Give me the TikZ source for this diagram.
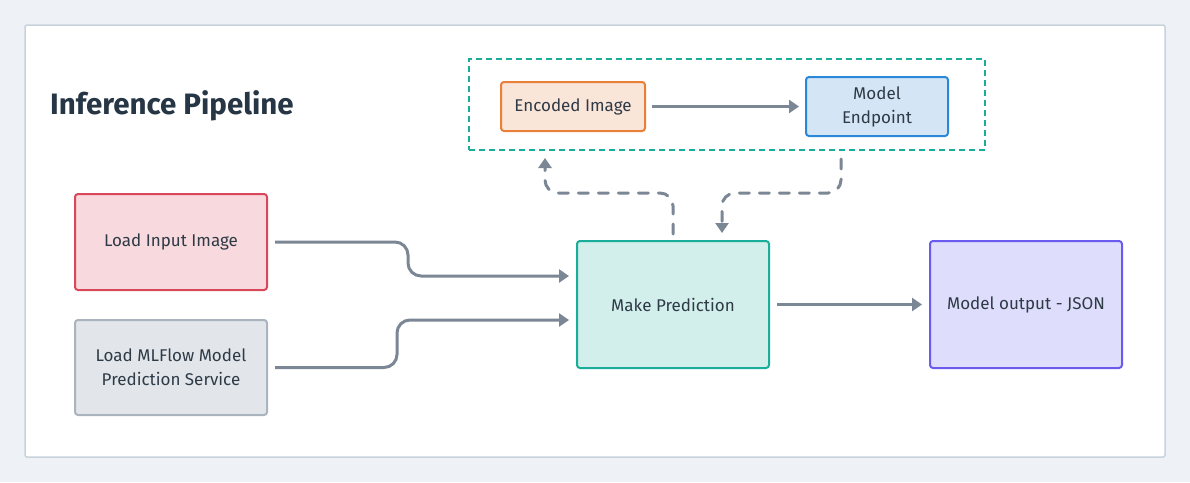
\documentclass[tikz,border=0pt]{standalone}
\usepackage{fontspec}
\setmainfont{Fira Sans}
\usetikzlibrary{arrows.meta}
\definecolor{bgc}{HTML}{EEF2F6}
\definecolor{panelb}{HTML}{C8D2DC}
\definecolor{titlec}{HTML}{263645}
\definecolor{txt}{HTML}{2E3A46}
\definecolor{arrc}{HTML}{7B8794}
\definecolor{redf}{HTML}{F8D9DD}
\definecolor{redb}{HTML}{D9485A}
\definecolor{grayf}{HTML}{E2E6EA}
\definecolor{grayb}{HTML}{A9B4BE}
\definecolor{tealf}{HTML}{D2EFEC}
\definecolor{tealb}{HTML}{1AAE9A}
\definecolor{purf}{HTML}{DEDDFB}
\definecolor{purb}{HTML}{6A5AF0}
\definecolor{orf}{HTML}{FAE5D9}
\definecolor{orb}{HTML}{E8803A}
\definecolor{bluf}{HTML}{D4E5F5}
\definecolor{blub}{HTML}{2B88D8}
\tikzset{
  box/.style={draw, line width=2pt, rounded corners=3pt, align=center, text=txt,
    font=\fontsize{17}{24}\selectfont, inner sep=0pt},
  arr/.style={draw=arrc, line width=3pt, -{Triangle[length=10pt,width=13pt]}},
  darr/.style={arr, dash pattern=on 10pt off 10pt, line cap=round},
}
\begin{document}
\begin{tikzpicture}[x=1pt,y=-1pt]
\useasboundingbox (0,0) rectangle (1190,482);
\fill[bgc] (0,0) rectangle (1190,482);
\draw[panelb, fill=white, line width=1.5pt, rounded corners=2pt] (25,25) rectangle (1165,457);
\node[anchor=west, text=titlec, font=\fontsize{29.5}{34}\selectfont\bfseries, inner sep=0pt] (title) at (50,106) {Inference Pipeline};

\node[box, fill=redf, draw=redb, minimum width=192pt, minimum height=96pt] (in1) at (171,242) {Load Input Image};
\node[box, fill=grayf, draw=grayb, minimum width=192pt, minimum height=95pt] (in2) at (171,367.5) {Load MLFlow Model\\Prediction Service};
\node[box, fill=tealf, draw=tealb, minimum width=192pt, minimum height=127pt] (mp) at (673,304.5) {Make Prediction};
\node[box, fill=purf, draw=purb, minimum width=192pt, minimum height=127pt] (out) at (1026,304.5) {Model output - JSON};
\node[draw=tealb, line width=2pt, dash pattern=on 6pt off 4pt, minimum width=516pt, minimum height=91pt, inner sep=0pt] (grp) at (727,104.5) {};
\node[box, fill=orf, draw=orb, minimum width=144pt, minimum height=49pt] (enc) at (573,106.5) {Encoded Image};
\node[box, fill=bluf, draw=blub, minimum width=142pt, minimum height=59pt] (ep) at (877,106.5) {Model\\Endpoint};

\coordinate (g1) at (545,150);
\coordinate (g2) at (841,150);
\coordinate (m2) at (722,241);

\draw[arr, shorten <=6pt, shorten >=6pt] (enc) -- (ep);
\draw[arr, rounded corners=13pt, shorten <=7pt, shorten >=7pt] (in1.east) -- (408,242) -- (408,276) -- ([yshift=28.5pt]mp.west);
\draw[arr, rounded corners=13pt, shorten <=7pt, shorten >=7pt] (in2.east) -- (397,367.5) -- (397,320) -- ([yshift=-15.5pt]mp.west);
\draw[arr, shorten <=7pt, shorten >=7pt] (mp) -- (out);
\draw[darr, rounded corners=13pt, shorten <=6pt, shorten >=8pt] (mp.north) -- (673,193) -- (545,193) -- (g1);
\draw[darr, rounded corners=13pt, shorten <=9pt, shorten >=8pt] (g2) -- (841,193) -- (722,193) -- (m2);
\end{tikzpicture}
\end{document}
